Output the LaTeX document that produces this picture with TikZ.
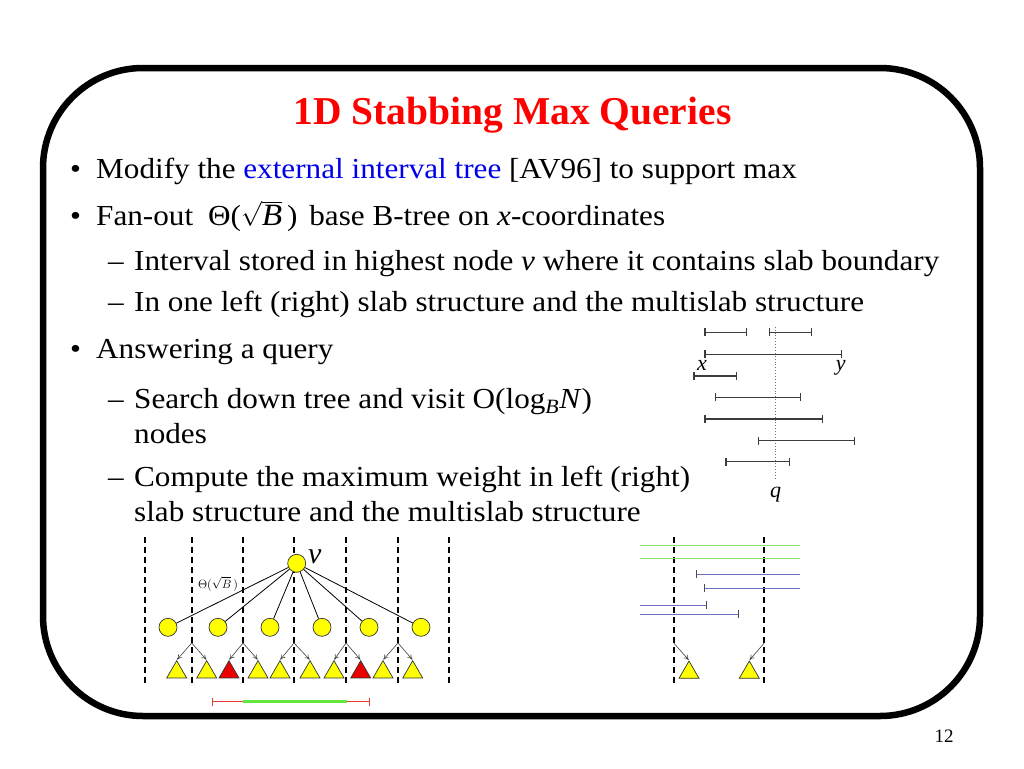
\documentclass[tikz,border=0pt]{standalone}
\usepackage{fontspec}
\setmainfont{Liberation Serif}
\newfontfamily\bodyfont[FakeStretch=1.075]{Liberation Serif}
\usetikzlibrary{arrows.meta,shapes.geometric}
\definecolor{titlered}{RGB}{255,0,0}
\definecolor{linkblue}{RGB}{0,0,235}
\definecolor{ivgrey}{RGB}{60,60,60}
\definecolor{lgreen}{RGB}{140,225,110}
\definecolor{sblue}{RGB}{110,110,190}
\definecolor{nodeyellow}{RGB}{255,255,0}
\definecolor{trired}{RGB}{235,0,0}
\definecolor{segred}{RGB}{230,60,60}
\definecolor{seggreen}{RGB}{100,230,60}
\begin{document}
\begin{tikzpicture}[x=1pt,y=-1pt,
  txt/.style={anchor=base west,inner sep=0pt,font=\bodyfont\fontsize{29}{32}\selectfont},
  ttl/.style={anchor=base,inner sep=0pt,font=\fontsize{39.5}{44}\selectfont\bfseries,text=titlered},
  frame/.style={line width=6.5pt,rounded corners=100pt},
  slab/.style={line width=1.8pt,dash pattern=on 6pt off 4pt},
  ynode/.style={circle,draw=black!80,line width=0.7pt,fill=nodeyellow,minimum size=18pt,inner sep=0pt},
  ytri/.style={regular polygon,regular polygon sides=3,draw=black!80,line width=0.7pt,fill=nodeyellow,minimum size=23pt,inner sep=0pt},
  rtri/.style={ytri,fill=trired},
  tedge/.style={line width=0.8pt,black},
  sarrow/.style={line width=0.6pt,black!75,-{To[length=5pt,width=5pt]},shorten >=0.5pt},
  ival/.style={line width=1.2pt,ivgrey,{Bar[width=8pt,line width=1.2pt]}-{Bar[width=8pt,line width=1.2pt]}},
  lab/.style={inner sep=0pt,font=\fontsize{22}{24}\selectfont\itshape}
]
\useasboundingbox (0,0) rectangle (1024,768);
% frame
\draw[frame] (43,68) rectangle (980,716);
% title
\node[ttl] (title) at (512.5,124.3) {1D Stabbing Max Queries};
% text
\node[txt] (b1) at (70,178.3) {•};
\node[txt] (t1) at (96,178.3) {Modify the \textcolor{linkblue}{external interval tree} [AV96] to support max};
\node[txt] (b2) at (70,225) {•};
\node[txt] (t2) at (96,225) {Fan-out\hspace{15pt}Θ($\sqrt{\hbox{\fontsize{31}{32}\selectfont\itshape B}}$\,)\hspace{12pt}base B-tree on \textit{x}-coordinates};
\node[txt] (d1) at (108,270.7) {–};
\node[txt] (t3) at (134,270.7) {Interval stored in highest node \textit{v} where it contains slab boundary};
\node[txt] (d2) at (108,311.7) {–};
\node[txt] (t4) at (134,311.7) {In one left (right) slab structure and the multislab structure};
\node[txt] (b3) at (70,358) {•};
\node[txt] (t5) at (96,358) {Answering a query};
\node[txt] (d3) at (108,408.3) {–};
\node[txt] (t6) at (134,408.3) {Search down tree and visit O(log\textsubscript{\textit{B}}\textit{N})};
\node[txt] (t7) at (134,443.3) {nodes};
\node[txt] (d4) at (108,486.7) {–};
\node[txt] (t8) at (134,486.7) {Compute the maximum weight in left (right)};
\node[txt] (t9) at (134,521.7) {slab structure and the multislab structure};
\node[anchor=base,inner sep=0pt,font=\fontsize{19}{22}\selectfont] (pg) at (944,742) {12};

% ---- right interval diagram ----
\coordinate (qtop) at (775.7,326.7);
\coordinate (qbot) at (775.7,480);
\draw[line width=0.9pt,black!55,dotted] (qtop) -- (qbot);
\node[lab,anchor=base] (q) at (775.7,497) {q};
\coordinate (i1a) at (704.3,332.3); \coordinate (i1b) at (747.3,332.3);
\coordinate (i2a) at (769,332.3);   \coordinate (i2b) at (811.7,332.3);
\coordinate (i3a) at (704.3,354.3); \coordinate (i3b) at (842.3,354.3);
\coordinate (i4a) at (693.3,376);   \coordinate (i4b) at (736.7,376);
\coordinate (i5a) at (715,397.3);   \coordinate (i5b) at (801,397.3);
\coordinate (i6a) at (704.3,419);   \coordinate (i6b) at (822.7,419);
\coordinate (i7a) at (757.7,440.7); \coordinate (i7b) at (854.7,440.7);
\coordinate (i8a) at (725.3,461.7); \coordinate (i8b) at (790,461.7);
\foreach \i in {1,...,8} {\draw[ival] (i\i a) -- (i\i b);}
\node[lab,anchor=base] (xl) at (702,370) {x};
\node[lab,anchor=base] (yl) at (840.7,370) {y};

% ---- tree ----
\foreach \n/\x in {s0/145,s1/191.7,s2/243,s3/294,s4/346,s5/398,s6/449} {
  \coordinate (\n t) at (\x,537);
  \coordinate (\n b) at (\x,683);
  \coordinate (\n m) at (\x,643);
  \draw[slab] (\n t) -- (\n b);
}
\node[ynode] (root) at (296.7,563.3) {};
\node[inner sep=0pt,anchor=base west,font=\fontsize{30}{32}\selectfont\itshape] (vl) at (308,563.3) {v};
\foreach \n/\x in {c1/168,c2/218,c3/270,c4/322,c5/369,c6/421} {
  \node[ynode] (\n) at (\x,627.3) {};
  \draw[tedge] (root) -- (\n);
}
\node[inner sep=0pt,font=\fontsize{12.5}{14}\selectfont] (thl) at (218,584) {$\Theta(\sqrt{B}\,)$};
\foreach \n/\x/\s in {k1/176.7/ytri,k2/206.7/ytri,k3/229/rtri,k4/258/ytri,k5/280/ytri,k6/310/ytri,k7/334/ytri,k8/360.7/rtri,k9/383/ytri,k10/412.7/ytri} {
  \node[\s] (\n) at (\x,672.2) {};
}
\foreach \s/\a/\b in {s1/k1/k2,s2/k3/k4,s3/k5/k6,s4/k7/k8,s5/k9/k10} {
  \draw[sarrow] (\s m) -- (\a.corner 1);
  \draw[sarrow] (\s m) -- (\b.corner 1);
}
% query interval under tree
\coordinate (ra) at (211.7,701.7); \coordinate (rb) at (370,701.7);
\coordinate (ga) at (243,701.7);   \coordinate (gb) at (346.7,701.7);
\draw[line width=1.4pt,segred,{Bar[width=8pt,line width=1.2pt]}-{Bar[width=8pt,line width=1.2pt]}] (ra) -- (rb);
\draw[line width=3pt,seggreen] (ga) -- (gb);

% ---- bottom right ----
\foreach \n/\x in {u1/674,u2/764} {
  \coordinate (\n t) at (\x,537);
  \coordinate (\n b) at (\x,683);
  \coordinate (\n m) at (\x,643.3);
  \draw[slab] (\n t) -- (\n b);
}
\coordinate (g1a) at (640,545);   \coordinate (g1b) at (800,545);
\coordinate (g2a) at (640,558.3); \coordinate (g2b) at (800,558.3);
\draw[line width=0.9pt,lgreen] (g1a) -- (g1b);
\draw[line width=0.9pt,lgreen] (g2a) -- (g2b);
\coordinate (p1a) at (695.7,574.3); \coordinate (p1b) at (800,574.3);
\coordinate (p2a) at (704.3,588.3); \coordinate (p2b) at (800,588.3);
\coordinate (p3a) at (640,605.3);   \coordinate (p3b) at (706.7,605.3);
\coordinate (p4a) at (640,614.3);   \coordinate (p4b) at (739,614.3);
\draw[line width=0.9pt,sblue,{Bar[width=8pt,line width=1pt,black!70]}-] (p1a) -- (p1b);
\draw[line width=0.9pt,sblue,{Bar[width=8pt,line width=1pt,black!70]}-] (p2a) -- (p2b);
\draw[line width=0.9pt,sblue,-{Bar[width=8pt,line width=1pt,black!70]}] (p3a) -- (p3b);
\draw[line width=0.9pt,sblue,-{Bar[width=8pt,line width=1pt,black!70]}] (p4a) -- (p4b);
\node[ytri] (m1) at (689,672.5) {};
\node[ytri] (m2) at (749.3,672.5) {};
\draw[sarrow] (u1m) -- (m1.corner 1);
\draw[sarrow] (u2m) -- (m2.corner 1);
\end{tikzpicture}
\end{document}
